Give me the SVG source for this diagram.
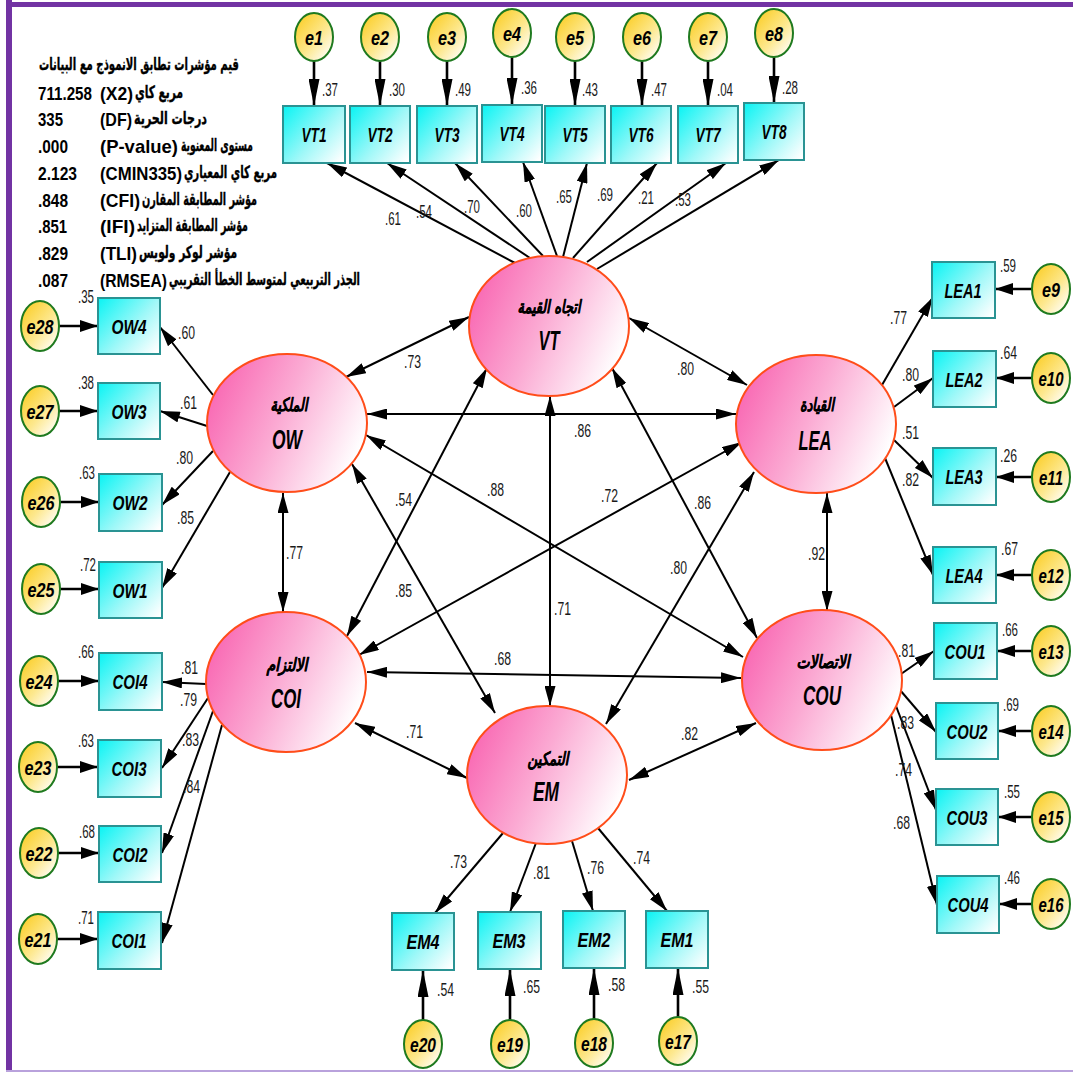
<svg xmlns="http://www.w3.org/2000/svg" width="1073" height="1073" viewBox="0 0 1073 1073">
  <defs>
    <linearGradient id="gLat" x1="0.02" y1="0.35" x2="0.95" y2="0.7">
      <stop offset="0" stop-color="#f96cb5"/>
      <stop offset="0.45" stop-color="#fbaad3"/>
      <stop offset="1" stop-color="#ffffff"/>
    </linearGradient>
    <linearGradient id="gBox" x1="0" y1="0.1" x2="1" y2="0.9">
      <stop offset="0" stop-color="#14f4f4"/>
      <stop offset="0.55" stop-color="#9ff8f8"/>
      <stop offset="1" stop-color="#ffffff"/>
    </linearGradient>
    <linearGradient id="gErr" x1="0.1" y1="0.1" x2="0.9" y2="0.95">
      <stop offset="0" stop-color="#fbcf2c"/>
      <stop offset="0.55" stop-color="#fde88e"/>
      <stop offset="1" stop-color="#ffffff"/>
    </linearGradient>
    <marker id="ah" viewBox="0 0 20 11" refX="20" refY="5.5" markerWidth="20" markerHeight="11" markerUnits="userSpaceOnUse" orient="auto-start-reverse">
      <path d="M0,0 L20,5.5 L0,11 z" fill="#000"/>
    </marker>
    <marker id="ahH" viewBox="0 0 18 12" refX="18" refY="6" markerWidth="18" markerHeight="12" markerUnits="userSpaceOnUse" orient="auto">
      <path d="M0,0 L18,6 L0,12 z" fill="#000"/>
    </marker>
    <marker id="ahV" viewBox="0 0 27 11" refX="27" refY="5.5" markerWidth="27" markerHeight="11" markerUnits="userSpaceOnUse" orient="auto">
      <path d="M0,0 L27,5.5 L0,11 z" fill="#000"/>
    </marker>
    <style>
      .lat { fill: url(#gLat); stroke: #ff4d1a; stroke-width: 2; }
      .box { fill: url(#gBox); stroke: #2a9393; stroke-width: 2; }
      .err { fill: url(#gErr); stroke: #1f7a1f; stroke-width: 2; }
      .lbl { font-family: "Liberation Sans", Arial, sans-serif; font-weight: bold; font-style: italic; font-size: 21px; text-anchor: middle; fill: #000; }
      .big { font-family: "Liberation Sans", Arial, sans-serif; font-weight: bold; font-style: italic; font-size: 27px; text-anchor: middle; fill: #000; }
      .ar { font-family: "DejaVu Sans", "Noto Sans", sans-serif; font-weight: bold; font-style: italic; font-size: 18px; text-anchor: middle; fill: #000; stroke: #000; stroke-width: 0.3; }
      .num { font-family: "Liberation Sans", Arial, sans-serif; font-size: 18px; fill: #1a1a1a; }
      .fit { font-family: "Liberation Sans", "DejaVu Sans", sans-serif; font-weight: bold; font-size: 19px; fill: #000; }
      .fitar { font-family: "DejaVu Sans", sans-serif; font-weight: bold; font-size: 17px; fill: #000; stroke: #000; stroke-width: 0.4; }
      .ld { stroke: #000; stroke-width: 2; fill: none; marker-end: url(#ah); }
      .cv { stroke: #000; stroke-width: 2; fill: none; marker-start: url(#ah); marker-end: url(#ah); }
      .eh { stroke: #000; stroke-width: 2.6; fill: none; marker-end: url(#ahH); }
      .ev { stroke: #000; stroke-width: 2.6; fill: none; marker-end: url(#ahV); }
    </style>
  </defs>

  <rect width="1073" height="1073" fill="#ffffff"/>

  <!-- frame -->
  <rect x="6" y="2" width="1067" height="5" fill="#7233a3"/>
  <rect x="6" y="0" width="6" height="1071" fill="#7233a3"/>
  <rect x="6" y="1070" width="1067" height="2" fill="#b9a2dc"/>

  <!-- fit indices -->
  <g id="fit-indices">
    <text class="fitar" x="39" y="70" textLength="200" lengthAdjust="spacingAndGlyphs">قيم مؤشرات تطابق الانموذج مع البيانات</text>
    <text class="fit" x="38" y="100" textLength="54" lengthAdjust="spacingAndGlyphs">711.258</text>
    <text class="fit" x="100" y="100" textLength="33" lengthAdjust="spacingAndGlyphs">(X2)</text>
    <text class="fitar" x="135" y="98" textLength="48" lengthAdjust="spacingAndGlyphs">مربع كاي</text>
    <text class="fit" x="38" y="126" textLength="25" lengthAdjust="spacingAndGlyphs">335</text>
    <text class="fit" x="100" y="126" textLength="32" lengthAdjust="spacingAndGlyphs">(DF)</text>
    <text class="fitar" x="134" y="124" textLength="73" lengthAdjust="spacingAndGlyphs">درجات الحرية</text>
    <text class="fit" x="38" y="153" textLength="30" lengthAdjust="spacingAndGlyphs">.000</text>
    <text class="fit" x="100" y="153" textLength="78" lengthAdjust="spacingAndGlyphs">(P-value)</text>
    <text class="fitar" x="181" y="151" textLength="72" lengthAdjust="spacingAndGlyphs">مستوى المعنوية</text>
    <text class="fit" x="38" y="180" textLength="39" lengthAdjust="spacingAndGlyphs">2.123</text>
    <text class="fit" x="100" y="180" textLength="82" lengthAdjust="spacingAndGlyphs">(CMIN335)</text>
    <text class="fitar" x="184" y="178" textLength="93" lengthAdjust="spacingAndGlyphs">مربع كاي المعياري</text>
    <text class="fit" x="38" y="207" textLength="30" lengthAdjust="spacingAndGlyphs">.848</text>
    <text class="fit" x="100" y="207" textLength="40" lengthAdjust="spacingAndGlyphs">(CFI)</text>
    <text class="fitar" x="142" y="205" textLength="115" lengthAdjust="spacingAndGlyphs">مؤشر المطابقة المقارن</text>
    <text class="fit" x="38" y="233" textLength="29" lengthAdjust="spacingAndGlyphs">.851</text>
    <text class="fit" x="100" y="233" textLength="35" lengthAdjust="spacingAndGlyphs">(IFI)</text>
    <text class="fitar" x="137" y="231" textLength="111" lengthAdjust="spacingAndGlyphs">مؤشر المطابقة المتزايد</text>
    <text class="fit" x="38" y="260" textLength="30" lengthAdjust="spacingAndGlyphs">.829</text>
    <text class="fit" x="100" y="260" textLength="37" lengthAdjust="spacingAndGlyphs">(TLI)</text>
    <text class="fitar" x="139" y="258" textLength="98" lengthAdjust="spacingAndGlyphs">مؤشر لوكر ولويس</text>
    <text class="fit" x="38" y="287" textLength="30" lengthAdjust="spacingAndGlyphs">.087</text>
    <text class="fit" x="100" y="287" textLength="67" lengthAdjust="spacingAndGlyphs">(RMSEA)</text>
    <text class="fitar" x="169" y="285" textLength="191" lengthAdjust="spacingAndGlyphs">الجذر التربيعي لمتوسط الخطأ التقريبي</text>
  </g>

  <!-- connectors -->
  <g id="connectors">
    <!-- error terms to indicators -->
    <line class="ev" x1="314" y1="61" x2="314" y2="106"/>
    <line class="ev" x1="380" y1="61" x2="380" y2="106"/>
    <line class="ev" x1="447" y1="61" x2="447" y2="106"/>
    <line class="ev" x1="512" y1="57" x2="512" y2="105"/>
    <line class="ev" x1="575" y1="61" x2="575" y2="106"/>
    <line class="ev" x1="642" y1="61" x2="642" y2="106"/>
    <line class="ev" x1="708" y1="61" x2="708" y2="106"/>
    <line class="ev" x1="774" y1="57" x2="774" y2="103"/>

    <line class="eh" x1="59" y1="326" x2="98" y2="326"/>
    <line class="eh" x1="59" y1="411" x2="98" y2="411"/>
    <line class="eh" x1="60" y1="502" x2="99" y2="502"/>
    <line class="eh" x1="60" y1="589" x2="99" y2="589"/>
    <line class="eh" x1="58" y1="681" x2="99" y2="681"/>
    <line class="eh" x1="57" y1="767" x2="98" y2="767"/>
    <line class="eh" x1="58" y1="853" x2="99" y2="853"/>
    <line class="eh" x1="57" y1="939" x2="98" y2="939"/>

    <line class="eh" x1="1032" y1="289" x2="995" y2="289"/>
    <line class="eh" x1="1032" y1="378" x2="996" y2="378"/>
    <line class="eh" x1="1032" y1="477" x2="996" y2="477"/>
    <line class="eh" x1="1032" y1="575" x2="996" y2="575"/>
    <line class="eh" x1="1032" y1="651" x2="997" y2="651"/>
    <line class="eh" x1="1032" y1="731" x2="998" y2="731"/>
    <line class="eh" x1="1032" y1="817" x2="998" y2="817"/>
    <line class="eh" x1="1032" y1="904" x2="999" y2="904"/>

    <line class="ev" x1="423" y1="1020" x2="423" y2="970"/>
    <line class="ev" x1="510" y1="1020" x2="510" y2="969"/>
    <line class="ev" x1="594" y1="1019" x2="594" y2="968"/>
    <line class="ev" x1="678" y1="1017" x2="678" y2="968"/>

    <!-- loadings -->
    <line class="ld" x1="515" y1="263" x2="327" y2="163"/>
    <line class="ld" x1="530" y1="258" x2="387" y2="163"/>
    <line class="ld" x1="543" y1="256" x2="455" y2="163"/>
    <line class="ld" x1="557" y1="256" x2="523" y2="162"/>
    <line class="ld" x1="563" y1="257" x2="587" y2="163"/>
    <line class="ld" x1="573" y1="258" x2="657" y2="163"/>
    <line class="ld" x1="587" y1="262" x2="726" y2="163"/>
    <line class="ld" x1="597" y1="269" x2="779" y2="160"/>

    <line class="ld" x1="213" y1="395" x2="160" y2="327"/>
    <line class="ld" x1="207" y1="426" x2="160" y2="411"/>
    <line class="ld" x1="213" y1="451" x2="162" y2="505"/>
    <line class="ld" x1="230" y1="472" x2="162" y2="588"/>

    <line class="ld" x1="206" y1="684" x2="162" y2="682"/>
    <line class="ld" x1="208" y1="698" x2="162" y2="768"/>
    <line class="ld" x1="213" y1="711" x2="162" y2="853"/>
    <line class="ld" x1="222" y1="725" x2="162" y2="943"/>

    <line class="ld" x1="882" y1="385" x2="933" y2="297"/>
    <line class="ld" x1="894" y1="407" x2="933" y2="378"/>
    <line class="ld" x1="894" y1="440" x2="933" y2="478"/>
    <line class="ld" x1="885" y1="458" x2="933" y2="575"/>

    <line class="ld" x1="901" y1="674" x2="934" y2="651"/>
    <line class="ld" x1="900" y1="690" x2="936" y2="732"/>
    <line class="ld" x1="896" y1="706" x2="936" y2="810"/>
    <line class="ld" x1="891" y1="715" x2="937" y2="905"/>

    <line class="ld" x1="503" y1="833" x2="435" y2="913"/>
    <line class="ld" x1="536" y1="843" x2="510" y2="912"/>
    <line class="ld" x1="572" y1="841" x2="593" y2="911"/>
    <line class="ld" x1="598" y1="828" x2="667" y2="911"/>

    <!-- covariances -->
    <line class="cv" x1="469" y1="317" x2="346" y2="377"/>
    <line class="cv" x1="629" y1="318" x2="747" y2="385"/>
    <line class="cv" x1="367" y1="414" x2="736" y2="414"/>
    <line class="cv" x1="487" y1="368" x2="347" y2="636"/>
    <line class="cv" x1="550" y1="396" x2="550" y2="706"/>
    <line class="cv" x1="612" y1="368" x2="757" y2="638"/>
    <line class="cv" x1="366" y1="435" x2="743" y2="657"/>
    <line class="cv" x1="352" y1="464" x2="495" y2="713"/>
    <line class="cv" x1="283" y1="493" x2="283" y2="612"/>
    <line class="cv" x1="742" y1="442" x2="359" y2="655"/>
    <line class="cv" x1="754" y1="472" x2="606" y2="724"/>
    <line class="cv" x1="827" y1="493" x2="827" y2="611"/>
    <line class="cv" x1="367" y1="672" x2="741" y2="678"/>
    <line class="cv" x1="355" y1="723" x2="467" y2="778"/>
    <line class="cv" x1="756" y1="723" x2="629" y2="780"/>
  </g>

  <!-- coefficient labels -->
  <g id="estimates" class="num">
    <text x="322" y="96" textLength="16" lengthAdjust="spacingAndGlyphs">.37</text>
    <text x="389" y="96" textLength="16" lengthAdjust="spacingAndGlyphs">.30</text>
    <text x="455" y="96" textLength="16" lengthAdjust="spacingAndGlyphs">.49</text>
    <text x="521" y="94" textLength="16" lengthAdjust="spacingAndGlyphs">.36</text>
    <text x="582" y="96" textLength="16" lengthAdjust="spacingAndGlyphs">.43</text>
    <text x="651" y="96" textLength="16" lengthAdjust="spacingAndGlyphs">.47</text>
    <text x="717" y="96" textLength="16" lengthAdjust="spacingAndGlyphs">.04</text>
    <text x="782" y="94" textLength="16" lengthAdjust="spacingAndGlyphs">.28</text>

    <text x="385" y="225" textLength="16" lengthAdjust="spacingAndGlyphs">.61</text>
    <text x="416" y="218" textLength="16" lengthAdjust="spacingAndGlyphs">.54</text>
    <text x="464" y="213" textLength="16" lengthAdjust="spacingAndGlyphs">.70</text>
    <text x="516" y="217" textLength="16" lengthAdjust="spacingAndGlyphs">.60</text>
    <text x="556" y="203" textLength="16" lengthAdjust="spacingAndGlyphs">.65</text>
    <text x="597" y="201" textLength="16" lengthAdjust="spacingAndGlyphs">.69</text>
    <text x="638" y="204" textLength="16" lengthAdjust="spacingAndGlyphs">.21</text>
    <text x="675" y="206" textLength="16" lengthAdjust="spacingAndGlyphs">.53</text>

    <text x="78" y="303" textLength="16" lengthAdjust="spacingAndGlyphs">.35</text>
    <text x="78" y="389" textLength="16" lengthAdjust="spacingAndGlyphs">.38</text>
    <text x="79" y="479" textLength="16" lengthAdjust="spacingAndGlyphs">.63</text>
    <text x="80" y="571" textLength="16" lengthAdjust="spacingAndGlyphs">.72</text>
    <text x="178" y="339" textLength="17" lengthAdjust="spacingAndGlyphs">.60</text>
    <text x="180" y="409" textLength="17" lengthAdjust="spacingAndGlyphs">.61</text>
    <text x="176" y="464" textLength="17" lengthAdjust="spacingAndGlyphs">.80</text>
    <text x="177" y="524" textLength="17" lengthAdjust="spacingAndGlyphs">.85</text>

    <text x="78" y="658" textLength="16" lengthAdjust="spacingAndGlyphs">.66</text>
    <text x="78" y="747" textLength="16" lengthAdjust="spacingAndGlyphs">.63</text>
    <text x="79" y="838" textLength="16" lengthAdjust="spacingAndGlyphs">.68</text>
    <text x="78" y="924" textLength="16" lengthAdjust="spacingAndGlyphs">.71</text>
    <text x="181" y="674" textLength="17" lengthAdjust="spacingAndGlyphs">.81</text>
    <text x="180" y="706" textLength="17" lengthAdjust="spacingAndGlyphs">.79</text>
    <text x="182" y="746" textLength="17" lengthAdjust="spacingAndGlyphs">.83</text>
    <text x="183" y="793" textLength="17" lengthAdjust="spacingAndGlyphs">.84</text>

    <text x="1000" y="272" textLength="16" lengthAdjust="spacingAndGlyphs">.59</text>
    <text x="1000" y="359" textLength="17" lengthAdjust="spacingAndGlyphs">.64</text>
    <text x="1000" y="462" textLength="17" lengthAdjust="spacingAndGlyphs">.26</text>
    <text x="1001" y="555" textLength="17" lengthAdjust="spacingAndGlyphs">.67</text>
    <text x="890" y="324" textLength="17" lengthAdjust="spacingAndGlyphs">.77</text>
    <text x="902" y="381" textLength="17" lengthAdjust="spacingAndGlyphs">.80</text>
    <text x="902" y="439" textLength="17" lengthAdjust="spacingAndGlyphs">.51</text>
    <text x="902" y="486" textLength="17" lengthAdjust="spacingAndGlyphs">.82</text>

    <text x="1002" y="636" textLength="16" lengthAdjust="spacingAndGlyphs">.66</text>
    <text x="1003" y="711" textLength="16" lengthAdjust="spacingAndGlyphs">.69</text>
    <text x="1004" y="798" textLength="16" lengthAdjust="spacingAndGlyphs">.55</text>
    <text x="1004" y="884" textLength="16" lengthAdjust="spacingAndGlyphs">.46</text>
    <text x="898" y="657" textLength="17" lengthAdjust="spacingAndGlyphs">.81</text>
    <text x="897" y="729" textLength="17" lengthAdjust="spacingAndGlyphs">.83</text>
    <text x="895" y="776" textLength="17" lengthAdjust="spacingAndGlyphs">.74</text>
    <text x="893" y="829" textLength="17" lengthAdjust="spacingAndGlyphs">.68</text>

    <text x="450" y="868" textLength="17" lengthAdjust="spacingAndGlyphs">.73</text>
    <text x="533" y="879" textLength="17" lengthAdjust="spacingAndGlyphs">.81</text>
    <text x="587" y="874" textLength="17" lengthAdjust="spacingAndGlyphs">.76</text>
    <text x="633" y="864" textLength="17" lengthAdjust="spacingAndGlyphs">.74</text>
    <text x="437" y="996" textLength="17" lengthAdjust="spacingAndGlyphs">.54</text>
    <text x="523" y="993" textLength="17" lengthAdjust="spacingAndGlyphs">.65</text>
    <text x="608" y="991" textLength="17" lengthAdjust="spacingAndGlyphs">.58</text>
    <text x="692" y="993" textLength="17" lengthAdjust="spacingAndGlyphs">.55</text>

    <text x="404" y="368" textLength="17" lengthAdjust="spacingAndGlyphs">.73</text>
    <text x="677" y="375" textLength="17" lengthAdjust="spacingAndGlyphs">.80</text>
    <text x="574" y="437" textLength="17" lengthAdjust="spacingAndGlyphs">.86</text>
    <text x="395" y="506" textLength="17" lengthAdjust="spacingAndGlyphs">.54</text>
    <text x="487" y="496" textLength="17" lengthAdjust="spacingAndGlyphs">.88</text>
    <text x="601" y="502" textLength="17" lengthAdjust="spacingAndGlyphs">.72</text>
    <text x="694" y="509" textLength="17" lengthAdjust="spacingAndGlyphs">.86</text>
    <text x="286" y="559" textLength="17" lengthAdjust="spacingAndGlyphs">.77</text>
    <text x="808" y="560" textLength="17" lengthAdjust="spacingAndGlyphs">.92</text>
    <text x="554" y="615" textLength="17" lengthAdjust="spacingAndGlyphs">.71</text>
    <text x="670" y="574" textLength="17" lengthAdjust="spacingAndGlyphs">.80</text>
    <text x="395" y="597" textLength="17" lengthAdjust="spacingAndGlyphs">.85</text>
    <text x="494" y="665" textLength="17" lengthAdjust="spacingAndGlyphs">.68</text>
    <text x="406" y="738" textLength="17" lengthAdjust="spacingAndGlyphs">.71</text>
    <text x="681" y="740" textLength="17" lengthAdjust="spacingAndGlyphs">.82</text>
  </g>

  <!-- latent constructs -->
  <g id="VT"><ellipse class="lat" cx="549" cy="326" rx="80" ry="70"/><text class="ar" x="549" y="313" textLength="63" lengthAdjust="spacingAndGlyphs">اتجاه القيمة</text><text class="big" x="549" y="350" textLength="21" lengthAdjust="spacingAndGlyphs">VT</text></g>
  <g id="OW"><ellipse class="lat" cx="287" cy="423" rx="80" ry="69"/><text class="ar" x="289" y="411" textLength="37" lengthAdjust="spacingAndGlyphs">الملكية</text><text class="big" x="287" y="449" textLength="30" lengthAdjust="spacingAndGlyphs">OW</text></g>
  <g id="LEA"><ellipse class="lat" cx="816" cy="424" rx="80" ry="69"/><text class="ar" x="817" y="411" textLength="34" lengthAdjust="spacingAndGlyphs">القيادة</text><text class="big" x="815" y="450" textLength="33" lengthAdjust="spacingAndGlyphs">LEA</text></g>
  <g id="COI"><ellipse class="lat" cx="286" cy="682" rx="80" ry="70"/><text class="ar" x="287" y="671" textLength="41" lengthAdjust="spacingAndGlyphs">الالتزام</text><text class="big" x="286" y="708" textLength="30" lengthAdjust="spacingAndGlyphs">COI</text></g>
  <g id="COU"><ellipse class="lat" cx="822" cy="680" rx="80" ry="70"/><text class="ar" x="823" y="668" textLength="53" lengthAdjust="spacingAndGlyphs">الاتصالات</text><text class="big" x="822" y="705" textLength="38" lengthAdjust="spacingAndGlyphs">COU</text></g>
  <g id="EM"><ellipse class="lat" cx="547" cy="775" rx="80" ry="69"/><text class="ar" x="548" y="765" textLength="41" lengthAdjust="spacingAndGlyphs">التمكين</text><text class="big" x="546" y="801" textLength="26" lengthAdjust="spacingAndGlyphs">EM</text></g>

  <!-- observed indicators -->
  <g id="VT1"><rect class="box" x="283" y="106" width="62" height="57"/><text class="lbl" x="314" y="142" textLength="25" lengthAdjust="spacingAndGlyphs">VT1</text></g>
  <g id="VT2"><rect class="box" x="350" y="106" width="60" height="57"/><text class="lbl" x="380" y="142" textLength="25" lengthAdjust="spacingAndGlyphs">VT2</text></g>
  <g id="VT3"><rect class="box" x="417" y="106" width="60" height="57"/><text class="lbl" x="447" y="142" textLength="25" lengthAdjust="spacingAndGlyphs">VT3</text></g>
  <g id="VT4"><rect class="box" x="482" y="105" width="60" height="57"/><text class="lbl" x="512" y="141" textLength="25" lengthAdjust="spacingAndGlyphs">VT4</text></g>
  <g id="VT5"><rect class="box" x="545" y="106" width="60" height="57"/><text class="lbl" x="575" y="142" textLength="25" lengthAdjust="spacingAndGlyphs">VT5</text></g>
  <g id="VT6"><rect class="box" x="611" y="106" width="60" height="57"/><text class="lbl" x="641" y="142" textLength="25" lengthAdjust="spacingAndGlyphs">VT6</text></g>
  <g id="VT7"><rect class="box" x="678" y="106" width="60" height="57"/><text class="lbl" x="708" y="142" textLength="25" lengthAdjust="spacingAndGlyphs">VT7</text></g>
  <g id="VT8"><rect class="box" x="744" y="103" width="60" height="57"/><text class="lbl" x="774" y="139" textLength="25" lengthAdjust="spacingAndGlyphs">VT8</text></g>

  <g id="OW4"><rect class="box" x="98" y="298" width="62" height="56"/><text class="lbl" x="129" y="334" textLength="35" lengthAdjust="spacingAndGlyphs">OW4</text></g>
  <g id="OW3"><rect class="box" x="98" y="383" width="62" height="56"/><text class="lbl" x="129" y="419" textLength="35" lengthAdjust="spacingAndGlyphs">OW3</text></g>
  <g id="OW2"><rect class="box" x="99" y="474" width="63" height="57"/><text class="lbl" x="130" y="510" textLength="35" lengthAdjust="spacingAndGlyphs">OW2</text></g>
  <g id="OW1"><rect class="box" x="99" y="562" width="63" height="56"/><text class="lbl" x="130" y="598" textLength="35" lengthAdjust="spacingAndGlyphs">OW1</text></g>

  <g id="COI4"><rect class="box" x="99" y="653" width="63" height="57"/><text class="lbl" x="130" y="689" textLength="35" lengthAdjust="spacingAndGlyphs">COI4</text></g>
  <g id="COI3"><rect class="box" x="98" y="740" width="63" height="57"/><text class="lbl" x="129" y="776" textLength="35" lengthAdjust="spacingAndGlyphs">COI3</text></g>
  <g id="COI2"><rect class="box" x="99" y="826" width="62" height="56"/><text class="lbl" x="130" y="862" textLength="35" lengthAdjust="spacingAndGlyphs">COI2</text></g>
  <g id="COI1"><rect class="box" x="98" y="912" width="63" height="57"/><text class="lbl" x="129" y="948" textLength="35" lengthAdjust="spacingAndGlyphs">COI1</text></g>

  <g id="LEA1"><rect class="box" x="932" y="262" width="63" height="56"/><text class="lbl" x="963" y="298" textLength="37" lengthAdjust="spacingAndGlyphs">LEA1</text></g>
  <g id="LEA2"><rect class="box" x="933" y="351" width="63" height="56"/><text class="lbl" x="964" y="387" textLength="37" lengthAdjust="spacingAndGlyphs">LEA2</text></g>
  <g id="LEA3"><rect class="box" x="933" y="448" width="63" height="57"/><text class="lbl" x="964" y="484" textLength="37" lengthAdjust="spacingAndGlyphs">LEA3</text></g>
  <g id="LEA4"><rect class="box" x="933" y="547" width="63" height="56"/><text class="lbl" x="964" y="583" textLength="37" lengthAdjust="spacingAndGlyphs">LEA4</text></g>

  <g id="COU1"><rect class="box" x="934" y="623" width="63" height="56"/><text class="lbl" x="965" y="659" textLength="41" lengthAdjust="spacingAndGlyphs">COU1</text></g>
  <g id="COU2"><rect class="box" x="936" y="703" width="62" height="56"/><text class="lbl" x="967" y="739" textLength="41" lengthAdjust="spacingAndGlyphs">COU2</text></g>
  <g id="COU3"><rect class="box" x="936" y="789" width="62" height="56"/><text class="lbl" x="967" y="825" textLength="41" lengthAdjust="spacingAndGlyphs">COU3</text></g>
  <g id="COU4"><rect class="box" x="937" y="876" width="62" height="57"/><text class="lbl" x="968" y="912" textLength="41" lengthAdjust="spacingAndGlyphs">COU4</text></g>

  <g id="EM4"><rect class="box" x="392" y="913" width="62" height="57"/><text class="lbl" x="423" y="949" textLength="33" lengthAdjust="spacingAndGlyphs">EM4</text></g>
  <g id="EM3"><rect class="box" x="478" y="912" width="63" height="57"/><text class="lbl" x="509" y="948" textLength="33" lengthAdjust="spacingAndGlyphs">EM3</text></g>
  <g id="EM2"><rect class="box" x="563" y="911" width="62" height="57"/><text class="lbl" x="594" y="947" textLength="33" lengthAdjust="spacingAndGlyphs">EM2</text></g>
  <g id="EM1"><rect class="box" x="646" y="911" width="62" height="57"/><text class="lbl" x="677" y="947" textLength="33" lengthAdjust="spacingAndGlyphs">EM1</text></g>

  <!-- error terms -->
  <g id="e1"><ellipse class="err" cx="314" cy="37" rx="19" ry="24"/><text class="lbl" x="314" y="45" textLength="18" lengthAdjust="spacingAndGlyphs">e1</text></g>
  <g id="e2"><ellipse class="err" cx="380" cy="37" rx="19" ry="24"/><text class="lbl" x="380" y="45" textLength="18" lengthAdjust="spacingAndGlyphs">e2</text></g>
  <g id="e3"><ellipse class="err" cx="447" cy="37" rx="19" ry="24"/><text class="lbl" x="447" y="45" textLength="18" lengthAdjust="spacingAndGlyphs">e3</text></g>
  <g id="e4"><ellipse class="err" cx="512" cy="33" rx="19" ry="24"/><text class="lbl" x="512" y="41" textLength="18" lengthAdjust="spacingAndGlyphs">e4</text></g>
  <g id="e5"><ellipse class="err" cx="575" cy="37" rx="19" ry="24"/><text class="lbl" x="575" y="45" textLength="18" lengthAdjust="spacingAndGlyphs">e5</text></g>
  <g id="e6"><ellipse class="err" cx="642" cy="37" rx="19" ry="24"/><text class="lbl" x="642" y="45" textLength="18" lengthAdjust="spacingAndGlyphs">e6</text></g>
  <g id="e7"><ellipse class="err" cx="708" cy="37" rx="19" ry="24"/><text class="lbl" x="708" y="45" textLength="18" lengthAdjust="spacingAndGlyphs">e7</text></g>
  <g id="e8"><ellipse class="err" cx="774" cy="33" rx="19" ry="24"/><text class="lbl" x="774" y="41" textLength="18" lengthAdjust="spacingAndGlyphs">e8</text></g>

  <g id="e28"><ellipse class="err" cx="40" cy="326" rx="19" ry="25"/><text class="lbl" x="40" y="334" textLength="27" lengthAdjust="spacingAndGlyphs">e28</text></g>
  <g id="e27"><ellipse class="err" cx="40" cy="411" rx="19" ry="25"/><text class="lbl" x="40" y="419" textLength="27" lengthAdjust="spacingAndGlyphs">e27</text></g>
  <g id="e26"><ellipse class="err" cx="41" cy="502" rx="19" ry="25"/><text class="lbl" x="41" y="510" textLength="27" lengthAdjust="spacingAndGlyphs">e26</text></g>
  <g id="e25"><ellipse class="err" cx="41" cy="589" rx="19" ry="25"/><text class="lbl" x="41" y="597" textLength="27" lengthAdjust="spacingAndGlyphs">e25</text></g>
  <g id="e24"><ellipse class="err" cx="39" cy="681" rx="19" ry="25"/><text class="lbl" x="39" y="689" textLength="27" lengthAdjust="spacingAndGlyphs">e24</text></g>
  <g id="e23"><ellipse class="err" cx="38" cy="767" rx="19" ry="25"/><text class="lbl" x="38" y="775" textLength="27" lengthAdjust="spacingAndGlyphs">e23</text></g>
  <g id="e22"><ellipse class="err" cx="39" cy="853" rx="19" ry="25"/><text class="lbl" x="39" y="861" textLength="27" lengthAdjust="spacingAndGlyphs">e22</text></g>
  <g id="e21"><ellipse class="err" cx="38" cy="939" rx="19" ry="25"/><text class="lbl" x="38" y="947" textLength="27" lengthAdjust="spacingAndGlyphs">e21</text></g>

  <g id="e9"><ellipse class="err" cx="1051" cy="289" rx="19" ry="25"/><text class="lbl" x="1051" y="297" textLength="18" lengthAdjust="spacingAndGlyphs">e9</text></g>
  <g id="e10"><ellipse class="err" cx="1051" cy="378" rx="19" ry="25"/><text class="lbl" x="1051" y="386" textLength="25" lengthAdjust="spacingAndGlyphs">e10</text></g>
  <g id="e11"><ellipse class="err" cx="1051" cy="477" rx="19" ry="25"/><text class="lbl" x="1051" y="485" textLength="24" lengthAdjust="spacingAndGlyphs">e11</text></g>
  <g id="e12"><ellipse class="err" cx="1051" cy="575" rx="19" ry="25"/><text class="lbl" x="1051" y="583" textLength="25" lengthAdjust="spacingAndGlyphs">e12</text></g>
  <g id="e13"><ellipse class="err" cx="1051" cy="651" rx="19" ry="25"/><text class="lbl" x="1051" y="659" textLength="25" lengthAdjust="spacingAndGlyphs">e13</text></g>
  <g id="e14"><ellipse class="err" cx="1051" cy="731" rx="19" ry="25"/><text class="lbl" x="1051" y="739" textLength="25" lengthAdjust="spacingAndGlyphs">e14</text></g>
  <g id="e15"><ellipse class="err" cx="1051" cy="817" rx="19" ry="25"/><text class="lbl" x="1051" y="825" textLength="25" lengthAdjust="spacingAndGlyphs">e15</text></g>
  <g id="e16"><ellipse class="err" cx="1051" cy="904" rx="19" ry="25"/><text class="lbl" x="1051" y="912" textLength="25" lengthAdjust="spacingAndGlyphs">e16</text></g>

  <g id="e20"><ellipse class="err" cx="423" cy="1044" rx="19" ry="24"/><text class="lbl" x="423" y="1052" textLength="26" lengthAdjust="spacingAndGlyphs">e20</text></g>
  <g id="e19"><ellipse class="err" cx="510" cy="1044" rx="19" ry="24"/><text class="lbl" x="510" y="1052" textLength="26" lengthAdjust="spacingAndGlyphs">e19</text></g>
  <g id="e18"><ellipse class="err" cx="594" cy="1043" rx="19" ry="24"/><text class="lbl" x="594" y="1051" textLength="26" lengthAdjust="spacingAndGlyphs">e18</text></g>
  <g id="e17"><ellipse class="err" cx="678" cy="1041" rx="19" ry="24"/><text class="lbl" x="678" y="1049" textLength="26" lengthAdjust="spacingAndGlyphs">e17</text></g>
</svg>
